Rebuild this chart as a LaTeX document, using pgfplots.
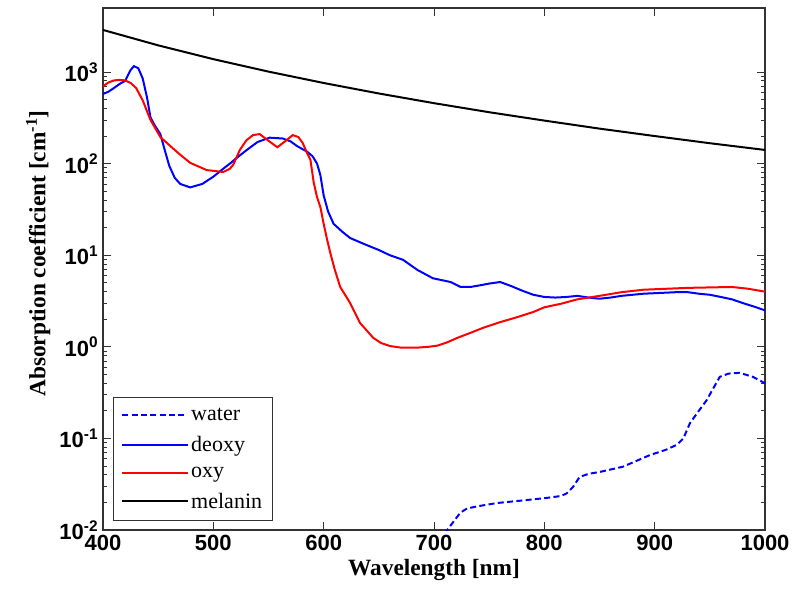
\documentclass[border=0pt]{standalone}
\usepackage{fontspec}
\setmainfont{Liberation Serif}
\setsansfont{Liberation Sans}
\usepackage{pgfplots}
\pgfplotsset{compat=1.18}
\begin{document}
\begin{tikzpicture}
\path[use as bounding box] (-77.25pt,-51pt) rectangle (521.25pt,397.5pt);
\begin{axis}[
  scale only axis, width=496.5pt, height=391.5pt,
  at={(0,0)}, anchor=south west,
  ymode=log, xmin=400, xmax=1000, ymin=0.01, ymax=5000,
  xtick={400,500,...,1000},
  ytick={0.01,0.1,1,10,100,1000},
  yticklabels={10\textsuperscript{-2},10\textsuperscript{-1},10\textsuperscript{0},10\textsuperscript{1},10\textsuperscript{2},10\textsuperscript{3}},
  xticklabels={400,500,600,700,800,900,1000},
  xticklabel style={font=\sffamily\bfseries\fontsize{16.5}{18}\selectfont},
  yticklabel style={font=\sffamily\bfseries\fontsize{16.5}{18}\selectfont},
  tick align=inside, major tick length=6pt, minor tick length=3pt,
  tick style={black!80, line width=0.6pt},
  axis line style={black!80, line width=0.9pt},
  xlabel={\bfseries Wavelength [nm]},
  ylabel={\bfseries Absorption coefficient [cm\textsuperscript{-1}]},
  label style={font=\fontsize{17.5}{20}\selectfont},
  every axis y label/.append style={at={(ticklabel cs:0.54)}, xshift=-4pt},
  legend style={at={(0.015,0.017)}, anchor=south west, draw=black!80, line width=0.6pt,
    font=\fontsize{16.5}{19}\selectfont, cells={anchor=west}, row sep=6.2pt,
    inner xsep=6pt, inner ysep=6pt},
  legend image code/.code={\draw[#1] plot coordinates {(0cm,0cm) (0.86cm,0cm) (1.72cm,0cm)};},
]
\addplot[blue, line width=1.5pt, dash pattern=on 4.5pt off 2.5pt] coordinates {
(705,0.0075) (708,0.0085) (712,0.01) (718,0.0125) (724,0.0155) (730,0.0172) (740,0.0182)
(757,0.0197) (780,0.021) (802,0.0224) (815,0.0235) (820,0.025) (826,0.0295) (832,0.038)
(840,0.041) (850,0.043) (871,0.049) (896,0.066) (910,0.075) (920,0.085) (926,0.1)
(932,0.147) (940,0.2) (947,0.26) (953,0.35) (959,0.47) (967,0.51) (977,0.52) (989,0.47) (1000,0.40)
};
\addlegendentry{water}
\addplot[blue, line width=1.5pt] coordinates {
(400,575) (405,610) (410,670) (415,740) (420,800) (425,1050) (428,1160) (432,1100) (436,850)
(440,520) (443,320) (447,260) (452,210) (456,140) (460,95) (465,70) (470,60) (479,55)
(490,60) (500,72) (509,88) (515,100) (521,115) (530,140) (540,172) (551,192) (563,188)
(570,175) (576,155) (585,135) (590,120) (594,100) (597,75) (600,45) (604,30) (609,22)
(617,18) (624,15.4) (632,14) (639,12.9) (650,11.4) (660,10.0) (672,8.9) (685,6.9)
(699,5.6) (715,5.1) (724,4.5) (733,4.5) (742,4.7) (750,4.9) (760,5.1) (770,4.6) (780,4.1)
(790,3.7) (800,3.5) (810,3.45) (820,3.5) (830,3.6) (840,3.45) (850,3.35) (860,3.45)
(870,3.6) (880,3.7) (890,3.8) (900,3.85) (920,3.95) (930,3.95) (940,3.8) (950,3.7)
(960,3.5) (970,3.3) (980,3.0) (990,2.75) (1000,2.5)
};
\addlegendentry{deoxy}
\addplot[red, line width=1.5pt] coordinates {
(400,700) (405,770) (410,810) (415,820) (420,810) (425,760) (430,670) (436,490) (443,300)
(452,195) (463,148) (470,125) (479,102) (494,85) (509,81) (515,88) (518,97) (524,141)
(530,180) (536,205) (542,210) (548,185) (558,151) (565,175) (572,205) (577,195) (581,168)
(585,130) (588,110) (591,62) (594,43) (597,33.6) (600,22) (603,15) (606,10.6) (610,7)
(615,4.5) (620,3.6) (624,3.0) (633,1.82) (645,1.25) (652,1.1) (660,1.02) (670,0.98)
(685,0.98) (695,1.0) (703,1.03) (712,1.12) (721,1.25) (733,1.42) (745,1.62) (760,1.86)
(775,2.1) (790,2.4) (800,2.7) (815,2.95) (830,3.3) (850,3.6) (870,3.95) (890,4.2)
(910,4.3) (930,4.4) (950,4.45) (970,4.5) (985,4.3) (1000,4.0)
};
\addlegendentry{oxy}
\addplot[black, line width=1.5pt] coordinates {
(400,2880) (450,1955) (500,1382) (550,1010) (600,759) (650,583) (700,457) (750,364)
(800,295) (850,241) (900,200) (950,167) (1000,141)
};
\addlegendentry{melanin}
\end{axis}
\end{tikzpicture}
\end{document}
